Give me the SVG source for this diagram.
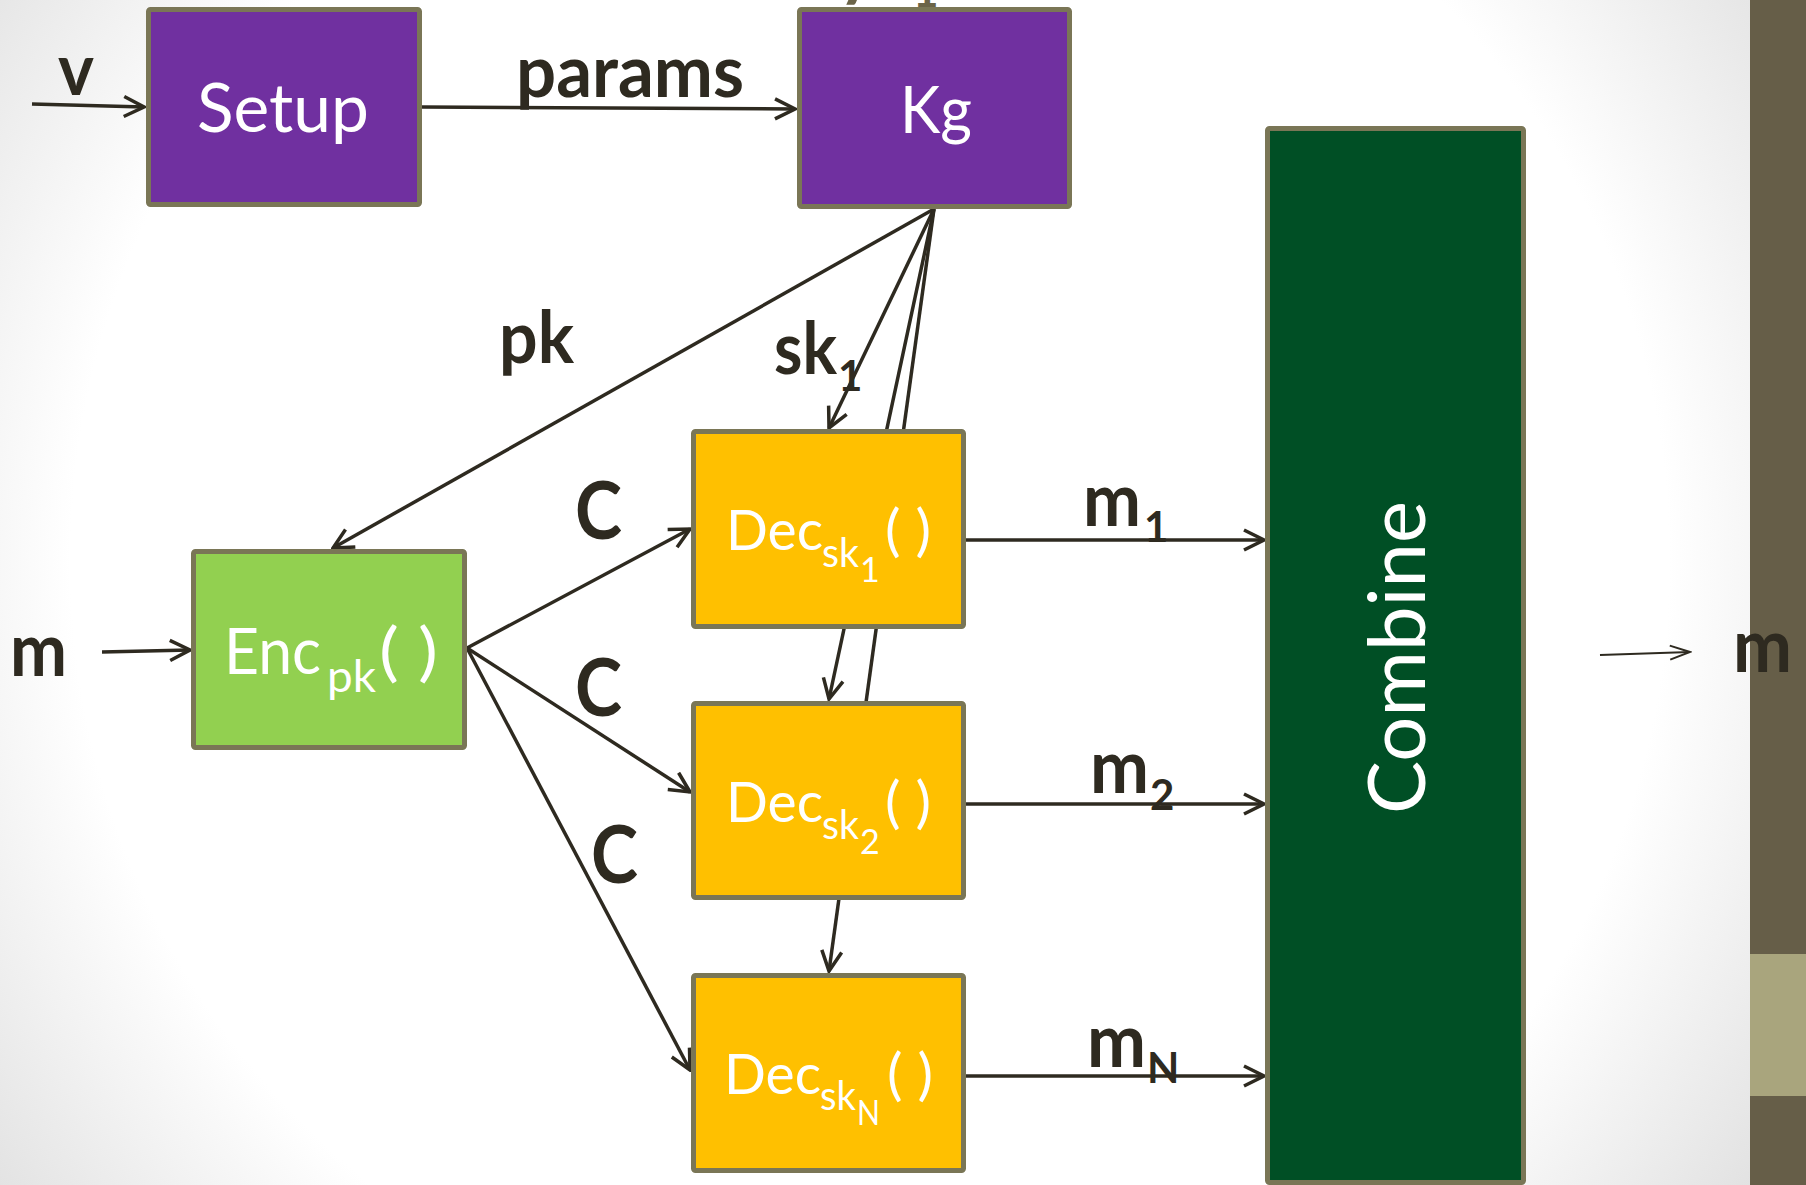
<svg xmlns="http://www.w3.org/2000/svg" width="1806" height="1185" viewBox="0 0 1806 1185">
  <style>
    .box { stroke: #7a7656; stroke-width: 5; }
    .purple { fill: #7030a0; }
    .green { fill: #92d050; }
    .gold { fill: #ffc000; }
    .dark { fill: #004f25; }
    .wire { fill: none; stroke: #2e2a20; stroke-width: 3.5; }
    .thin { fill: none; stroke: #2e2a20; stroke-width: 2; }
    .lbl { font-family: Lato, "Liberation Sans", sans-serif; font-weight: 700; fill: #2e2a20; }
    .frag { font-family: Lato, "Liberation Sans", sans-serif; font-weight: 700; fill: #6b6448; }
    .node { font-family: Lato, "Liberation Sans", sans-serif; font-weight: 400; fill: #ffffff; }
  </style>
  <defs>
    <radialGradient id="bg" gradientUnits="userSpaceOnUse" cx="870" cy="560" r="1080">
      <stop offset="0" stop-color="#ffffff"/>
      <stop offset="0.74" stop-color="#ffffff"/>
      <stop offset="1" stop-color="#e2e2e2"/>
    </radialGradient>
    <marker id="chev" markerUnits="userSpaceOnUse" viewBox="0 0 24 24" markerWidth="24" markerHeight="24" refX="22" refY="12" orient="auto">
      <path d="M2,2 L22,12 L2,22" fill="none" stroke="#2e2a20" stroke-width="3.5" stroke-linejoin="miter"/>
    </marker>
    <marker id="thinchev" markerUnits="userSpaceOnUse" viewBox="0 0 24 24" markerWidth="24" markerHeight="24" refX="22" refY="12" orient="auto">
      <path d="M2,5 L22,12 L2,19" fill="none" stroke="#2e2a20" stroke-width="2"/>
    </marker>
  </defs>

  <!-- page background and side band -->
  <rect x="0" y="0" width="1806" height="1185" fill="url(#bg)"/>
  <rect x="1750" y="0" width="56" height="1185" fill="#665e48"/>
  <rect x="1750" y="954" width="56" height="142" fill="#a9a57d"/>

  <!-- label fragments running off the top edge -->
  <text class="frag" x="838" y="-8" font-size="72">y</text>
  <text class="frag" x="913" y="7" font-size="44">1</text>

  <!-- connectors -->
  <g id="connectors">
    <path class="wire" d="M32,104 L144,107" marker-end="url(#chev)"/>
    <path class="wire" d="M422,107 L795,109" marker-end="url(#chev)"/>
    <path class="wire" d="M934,209 L333,548" marker-end="url(#chev)"/>
    <path class="wire" d="M934,209 L829,428" marker-end="url(#chev)"/>
    <path class="wire" d="M934,209 L829,699" marker-end="url(#chev)"/>
    <path class="wire" d="M934,209 L829,971" marker-end="url(#chev)"/>
    <path class="wire" d="M467,648 L690,529" marker-end="url(#chev)"/>
    <path class="wire" d="M467,648 L690,792" marker-end="url(#chev)"/>
    <path class="wire" d="M467,648 L690,1070" marker-end="url(#chev)"/>
    <path class="wire" d="M102,652 L190,650" marker-end="url(#chev)"/>
    <path class="wire" d="M966,540 L1264,540" marker-end="url(#chev)"/>
    <path class="wire" d="M966,804 L1264,804" marker-end="url(#chev)"/>
    <path class="wire" d="M966,1076 L1264,1076" marker-end="url(#chev)"/>
    <path class="thin" d="M1600,655 L1690,652" marker-end="url(#thinchev)"/>
  </g>

  <!-- edge labels -->
  <g id="labels">
    <text class="lbl" x="58" y="95" font-size="72" textLength="36" lengthAdjust="spacingAndGlyphs">v</text>
    <text class="lbl" x="516" y="97" font-size="72" textLength="228" lengthAdjust="spacingAndGlyphs">params</text>
    <text class="lbl" x="499" y="363" font-size="72" textLength="75" lengthAdjust="spacingAndGlyphs">pk</text>
    <text class="lbl" font-size="72"><tspan x="774" y="374" textLength="63" lengthAdjust="spacingAndGlyphs">sk</tspan><tspan x="838" y="391" font-size="42">1</tspan></text>
    <text class="lbl" x="575" y="539" font-size="80" textLength="47" lengthAdjust="spacingAndGlyphs">C</text>
    <text class="lbl" x="575" y="716" font-size="80" textLength="47" lengthAdjust="spacingAndGlyphs">C</text>
    <text class="lbl" x="591" y="883" font-size="80" textLength="47" lengthAdjust="spacingAndGlyphs">C</text>
    <text class="lbl" x="10" y="676" font-size="74" textLength="57" lengthAdjust="spacingAndGlyphs">m</text>
    <text class="lbl" x="1733" y="672" font-size="74" textLength="59" lengthAdjust="spacingAndGlyphs">m</text>
    <text class="lbl" font-size="74"><tspan x="1083" y="526" textLength="58" lengthAdjust="spacingAndGlyphs">m</tspan><tspan x="1144" y="542" font-size="42">1</tspan></text>
    <text class="lbl" font-size="74"><tspan x="1090" y="793" textLength="59" lengthAdjust="spacingAndGlyphs">m</tspan><tspan x="1150" y="810" font-size="42">2</tspan></text>
    <text class="lbl" font-size="74"><tspan x="1087" y="1067" textLength="59" lengthAdjust="spacingAndGlyphs">m</tspan><tspan x="1147" y="1083" font-size="42">N</tspan></text>
  </g>

  <!-- nodes -->
  <g id="setup">
    <rect class="box purple" x="148.5" y="9.5" width="271" height="195" rx="2"/>
    <text class="node" x="197" y="132" font-size="68" textLength="172" lengthAdjust="spacingAndGlyphs">Setup</text>
  </g>
  <g id="kg">
    <rect class="box purple" x="799.5" y="9.5" width="270" height="197" rx="2"/>
    <text class="node" x="900" y="133" font-size="66" textLength="72" lengthAdjust="spacingAndGlyphs">Kg</text>
  </g>
  <g id="enc">
    <rect class="box green" x="193.5" y="551.5" width="271" height="196" rx="2"/>
    <text class="node" font-size="64"><tspan x="224" y="674" textLength="97" lengthAdjust="spacingAndGlyphs">Enc</tspan><tspan x="327" y="692" font-size="44" textLength="49" lengthAdjust="spacingAndGlyphs">pk</tspan><tspan x="379" y="674" textLength="59" lengthAdjust="spacingAndGlyphs">( )</tspan></text>
  </g>
  <g id="dec1">
    <rect class="box gold" x="693.5" y="431.5" width="270" height="195" rx="2"/>
    <text class="node" font-size="56"><tspan x="726" y="550" textLength="97" lengthAdjust="spacingAndGlyphs">Dec</tspan><tspan x="822" y="567" font-size="40" textLength="37" lengthAdjust="spacingAndGlyphs">sk</tspan><tspan x="860" y="582" font-size="34">1</tspan><tspan x="885" y="550" textLength="46" lengthAdjust="spacingAndGlyphs">( )</tspan></text>
  </g>
  <g id="dec2">
    <rect class="box gold" x="693.5" y="703.5" width="270" height="194" rx="2"/>
    <text class="node" font-size="56"><tspan x="726" y="822" textLength="97" lengthAdjust="spacingAndGlyphs">Dec</tspan><tspan x="822" y="839" font-size="40" textLength="37" lengthAdjust="spacingAndGlyphs">sk</tspan><tspan x="860" y="854" font-size="34">2</tspan><tspan x="885" y="822" textLength="46" lengthAdjust="spacingAndGlyphs">( )</tspan></text>
  </g>
  <g id="decN">
    <rect class="box gold" x="693.5" y="975.5" width="270" height="195" rx="2"/>
    <text class="node" font-size="56"><tspan x="724" y="1094" textLength="97" lengthAdjust="spacingAndGlyphs">Dec</tspan><tspan x="820" y="1110" font-size="40" textLength="36" lengthAdjust="spacingAndGlyphs">sk</tspan><tspan x="857" y="1125" font-size="34" textLength="23" lengthAdjust="spacingAndGlyphs">N</tspan><tspan x="887" y="1094" textLength="46" lengthAdjust="spacingAndGlyphs">( )</tspan></text>
  </g>
  <g id="combine">
    <rect class="box dark" x="1267.5" y="128.5" width="256" height="1054" rx="2"/>
    <text class="node" transform="translate(1425,657.5) rotate(-90)" x="0" y="0" text-anchor="middle" font-size="79" textLength="313" lengthAdjust="spacingAndGlyphs">Combine</text>
  </g>
</svg>
